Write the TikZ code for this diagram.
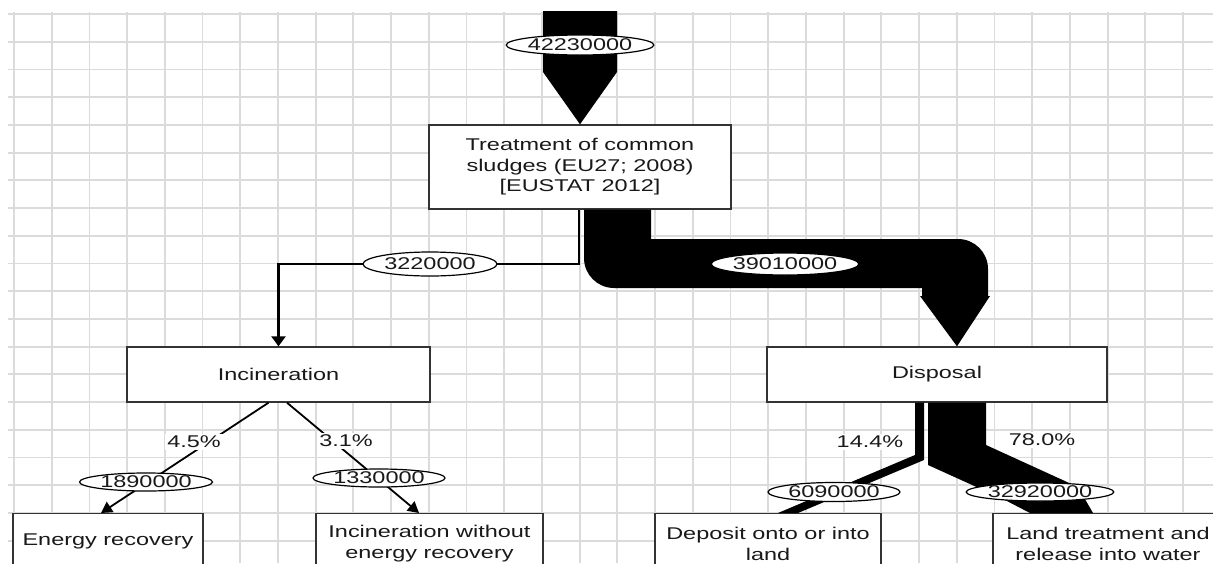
\documentclass[tikz,border=0pt]{standalone}
\usepackage{fontspec}
\setmainfont{Liberation Sans}[FakeStretch=1.38]
\usetikzlibrary{shapes.geometric,arrows.meta,calc}

\begin{document}
\begin{tikzpicture}[x=1pt,y=-1pt,
  every node/.style={font=\fontsize{17}{20.5}\selectfont, text=black!90},
  box/.style={draw=black!80, line width=1.4pt, fill=white, align=center, inner sep=0pt},
  val/.style={ellipse, draw=black, line width=1.2pt, fill=white, inner sep=0pt},
  pct/.style={fill=white, inner sep=2pt},
  flow/.style={fill=black},
  thinflow/.style={draw=black, line width=2.4pt, -{Triangle[width=14pt,length=10pt]}},
  branch/.style={draw=black, line width=1.8pt, -{Triangle[width=12pt,length=11pt]}},
  gridline/.style={draw=black!14, line width=1.8pt}
]
\useasboundingbox (0,0) rectangle (1213,563);
\clip (0,0) rectangle (1213,563);
\fill[white] (0,0) rectangle (1213,563);

% background grid
\foreach \k in {0,...,31}
  \draw[gridline] ({14+37.71*\k},12) -- ({14+37.71*\k},563);
\foreach \k in {0,...,19}
  \draw[gridline] (8,{14+27.72*\k}) -- (1213,{14+27.72*\k});

% process boxes
\node[box, minimum width=302, minimum height=84] (treat) at (580,167)
  {Treatment of common\\sludges (EU27; 2008)\\{[EUSTAT 2012]}};
\node[box, minimum width=303, minimum height=55] (inc) at (278.5,374.5) {Incineration};
\node[box, minimum width=340, minimum height=55] (disp) at (937,374.5) {Disposal};
\node[box, minimum width=190, minimum height=55, anchor=north] (er) at (108,513) {Energy recovery};
\node[box, minimum width=227, minimum height=60, anchor=north] (inw) at (429.5,513)
  {Incineration without\\energy recovery};
\node[box, minimum width=226, minimum height=60, anchor=north] (dep) at (768,513)
  {Deposit onto or into\\land};
\node[box, minimum width=230, minimum height=60, anchor=north] (land) at (1108,513)
  {Land treatment and\\release into water};

% inflow
\fill[flow] (543,11) -- (617,11) -- (617,72) -- (treat.north) -- (543,72) -- cycle;

% treatment -> disposal
\fill[flow] ($(treat.south)+(4,0)$) -- ($(treat.south)+(71,0)$) -- (651,239) -- (958,239)
  .. controls (974.6,239) and (988,252.4) .. (988,269) -- (988,296) -- (990,296)
  -- ($(disp.north)+(20,0)$) -- (920,296) -- (922,296) -- (922,288) -- (614,288)
  .. controls (597.4,288) and (584,274.6) .. (584,258) -- cycle;

% treatment -> incineration
\draw[thinflow] ([xshift=-1pt]treat.south) -- ++(0,54) -| (inc.north);

% incineration branches
\draw[branch] ([xshift=-10pt]inc.south) -- ([xshift=-7pt]er.north);
\draw[branch] ([xshift=8.5pt]inc.south) -- ([xshift=-10.5pt]inw.north);

% disposal branches
\fill[flow] ($(disp.south)+(-22,0)$) -- ($(disp.south)+(-13,0)$) -- (924,460)
  -- (798,513) -- (778,513) -- (915,455) -- cycle;
\fill[flow] ($(disp.south)+(-9,0)$) -- ($(disp.south)+(49,0)$) -- (986,445)
  -- (1078,487) -- (1093,513) -- (1030,513) -- (1003,499) -- (928,465) -- cycle;

% flow amounts
\node[val, minimum width=147, minimum height=20] (v1) at (580,45) {42230000};
\node[val, minimum width=134, minimum height=24] (v2) at (430,264) {3220000};
\node[val, minimum width=144, minimum height=22] (v3) at (785,264) {39010000};
\node[val, minimum width=133, minimum height=18] (v4) at (146,482) {1890000};
\node[val, minimum width=132, minimum height=18] (v5) at (379,478) {1330000};
\node[val, minimum width=132, minimum height=19] (v6) at (834,492) {6090000};
\node[val, minimum width=143, minimum height=18] (v7) at (1040,492) {32920000};

% shares
\node[pct] (p1) at (194,442) {4.5\%};
\node[pct] (p2) at (346,441) {3.1\%};
\node[pct] (p3) at (870,442) {14.4\%};
\node[pct] (p4) at (1042,440) {78.0\%};
\end{tikzpicture}
\end{document}
